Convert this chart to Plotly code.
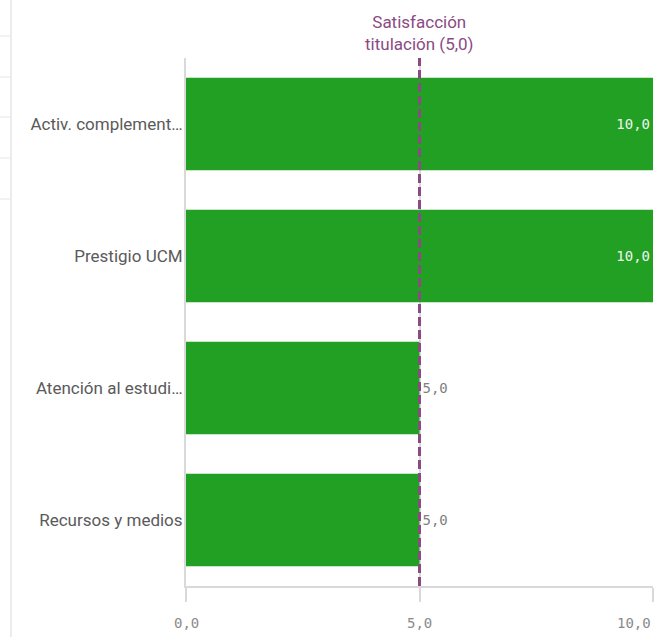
import plotly.graph_objects as go

categories = ["Activ. complement…", "Prestigio UCM", "Atención al estudi…", "Recursos y medios"]
values = [10.0, 10.0, 5.0, 5.0]
reference_value = 5.0
reference_label = "Satisfacción<br>titulación (5,0)"
tick_values = [0.0, 5.0, 10.0]
tick_labels = ["0,0", "5,0", "10,0"]
x_max = 10.0

GREEN = "#21a024"
PURPLE = "#8b4a82"
GRID = "#d9d9d9"
MONO = "DejaVu Sans Mono, Liberation Mono, monospace"
SANS = "Roboto, Open Sans, sans-serif"

def fmt(v):
    return f"{v:.1f}".replace(".", ",")

text_pos = ["inside" if v >= x_max * 0.9 else "outside" for v in values]
text_col = ["#eef5ee" if p == "inside" else "#808080" for p in text_pos]

fig = go.Figure()
fig.add_trace(go.Bar(
    y=categories, x=values, orientation="h",
    marker=dict(color=GREEN, line=dict(width=0)),
    text=[fmt(v) for v in values],
    textposition=text_pos,
    insidetextanchor="end",
    textfont=dict(family=MONO, size=14, color=text_col),
    cliponaxis=False,
    width=0.7,
    hoverinfo="skip",
))

# reference line
fig.add_shape(type="line", xref="x", yref="paper", x0=reference_value, x1=reference_value,
              y0=0, y1=1, line=dict(color=PURPLE, width=3, dash="9px,4px"), layer="above")
fig.add_annotation(x=reference_value, xref="x", y=1, yref="paper", yanchor="bottom",
                   text=reference_label, showarrow=False, yshift=2,
                   font=dict(family=SANS, size=17, color=PURPLE), align="center")

# x tick labels
for i, (tv, tl) in enumerate(zip(tick_values, tick_labels)):
    anchor = "right" if tv == x_max else "center"
    fig.add_annotation(x=tv, xref="x", y=0, yref="paper", yanchor="top", xanchor=anchor,
                       text=tl, showarrow=False, yshift=-27,
                       font=dict(family=MONO, size=14, color="#8a8a8a"))

# left-side decoration (neighbouring panel edge)
W = 672 - 186 - 19
H = 637 - 58 - 51
def px_x(p):
    return (p - 186) / W
def px_y(p):
    return 1 - (p - 58) / H
fig.add_shape(type="line", xref="paper", yref="paper", x0=px_x(11), x1=px_x(11),
              y0=px_y(0), y1=px_y(637), line=dict(color="#e6e6e6", width=1.5))
for yy in [36, 77, 117, 158, 199]:
    fig.add_shape(type="line", xref="paper", yref="paper", x0=px_x(0), x1=px_x(10),
                  y0=px_y(yy), y1=px_y(yy), line=dict(color="#e6e6e6", width=1))

fig.update_layout(
    width=672, height=637,
    margin=dict(l=186, r=19, t=58, b=51),
    paper_bgcolor="white", plot_bgcolor="white",
    showlegend=False,
    bargap=0.3,
)
fig.update_xaxes(range=[0, x_max], tickvals=tick_values, showticklabels=False,
                 showgrid=True, gridcolor=GRID, gridwidth=1.5,
                 ticks="outside", ticklen=14, tickcolor=GRID, tickwidth=1.5,
                 showline=True, linecolor=GRID, linewidth=1.5, zeroline=False, fixedrange=True)
fig.update_yaxes(autorange="reversed", showgrid=False, zeroline=False,
                 showline=True, linecolor=GRID, linewidth=2,
                 tickfont=dict(family=SANS, size=17, color="#5a5a5a"),
                 ticks="", ticklabelstandoff=-2, fixedrange=True)

fig.write_html("out.html", config={"displayModeBar": False},
               post_script="document.body.style.margin='0px';document.body.style.overflow='hidden';")
